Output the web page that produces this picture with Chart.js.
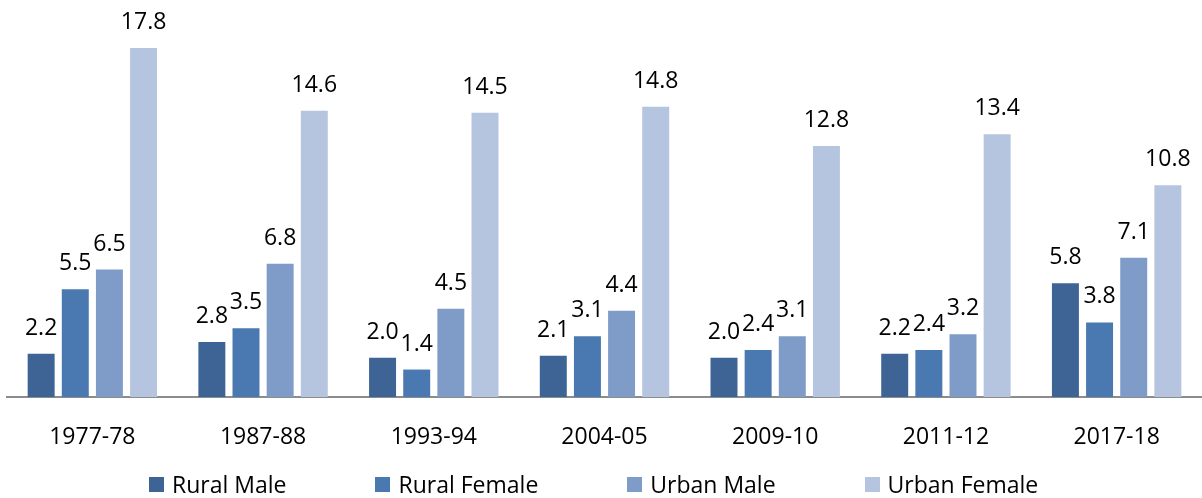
<!DOCTYPE html>
<html>
<head>
<meta charset="utf-8">
<script src="https://cdn.jsdelivr.net/npm/chart.js@4.4.1/dist/chart.umd.min.js"></script>
<style>
  html, body { margin: 0; padding: 0; background: #fff; overflow: hidden; }
  #wrap { position: relative; width: 1202px; height: 498px; }
  #c { position: absolute; left: 0; top: 0; }
  #legend { position: absolute; left: 149px; top: 470px; height: 28px; display: flex; gap: 89px;
    font-family: "Open Sans", sans-serif; font-size: 23px; color: #000; }
  .item { display: flex; align-items: center; white-space: nowrap; height: 28px; }
  .box { width: 15px; height: 15px; margin-right: 8px; }
</style>
</head>
<body>
<div id="wrap">
  <canvas id="c" width="1202" height="498"></canvas>
  <div id="legend"></div>
</div>
<script>
const categories = ["1977-78", "1987-88", "1993-94", "2004-05", "2009-10", "2011-12", "2017-18"];
const seriesNames = ["Rural Male", "Rural Female", "Urban Male", "Urban Female"];
const ruralMale   = [2.2, 2.8, 2.0, 2.1, 2.0, 2.2, 5.8];
const ruralFemale = [5.5, 3.5, 1.4, 3.1, 2.4, 2.4, 3.8];
const urbanMale   = [6.5, 6.8, 4.5, 4.4, 3.1, 3.2, 7.1];
const urbanFemale = [17.8, 14.6, 14.5, 14.8, 12.8, 13.4, 10.8];
const colors = ["#3D6495", "#4A78B0", "#7F9CC8", "#B5C4DF"];

const seriesValues = [ruralMale, ruralFemale, urbanMale, urbanFemale];
const FONT = '"Open Sans", sans-serif';

const labelPlugin = {
  id: 'valueLabels',
  afterDatasetsDraw(chart) {
    const ctx = chart.ctx;
    ctx.save();
    ctx.font = '23px ' + FONT;
    ctx.fillStyle = '#000';
    ctx.textAlign = 'center';
    ctx.textBaseline = 'alphabetic';
    chart.data.datasets.forEach((ds, i) => {
      const meta = chart.getDatasetMeta(i);
      meta.data.forEach((el, j) => {
        ctx.fillText(ds.data[j].toFixed(1), el.x, el.y - 19);
      });
    });
    ctx.restore();
  }
};

const chart = new Chart(document.getElementById('c'), {
  type: 'bar',
  data: {
    labels: categories,
    datasets: seriesNames.map((n, i) => ({
      label: n,
      data: seriesValues[i],
      backgroundColor: colors[i],
      borderWidth: 0,
      categoryPercentage: 0.8,
      barPercentage: 0.79
    }))
  },
  options: {
    responsive: false,
    animation: false,
    layout: { padding: { left: 7, right: -6, top: 44, bottom: 0 } },
    plugins: { legend: { display: false }, tooltip: { enabled: false } },
    scales: {
      x: {
        grid: { display: false, drawTicks: false },
        border: { display: true, color: '#8C8C8C', width: 2 },
        ticks: { color: '#000', font: { family: FONT, size: 23 }, padding: 27, maxRotation: 0 },
        afterFit(scale) { scale.height = 101; }
      },
      y: { display: false, min: 0, max: 18 }
    }
  },
  plugins: [labelPlugin]
});

const legend = document.getElementById('legend');
chart.data.datasets.forEach((ds) => {
  const it = document.createElement('div');
  it.className = 'item';
  const b = document.createElement('span');
  b.className = 'box';
  b.style.background = ds.backgroundColor;
  const t = document.createElement('span');
  t.textContent = ds.label;
  it.appendChild(b); it.appendChild(t);
  legend.appendChild(it);
});
</script>
</body>
</html>
